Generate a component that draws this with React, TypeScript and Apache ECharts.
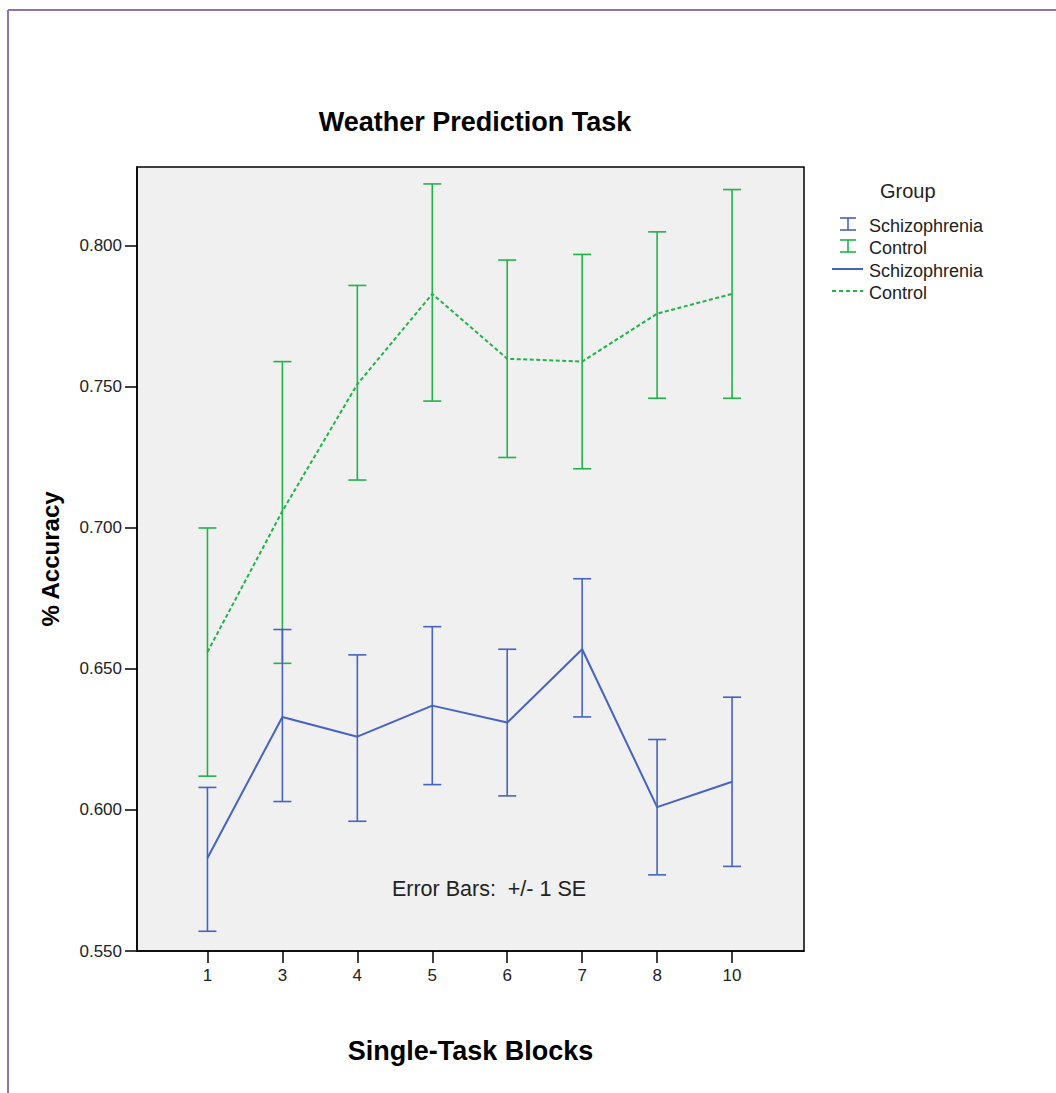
import React, { useEffect, useRef } from 'react';
import * as echarts from 'echarts';

const categories = ['1', '3', '4', '5', '6', '7', '8', '10'];
const schizMean = [0.583, 0.633, 0.626, 0.637, 0.631, 0.657, 0.601, 0.610];
const schizHigh = [0.608, 0.664, 0.655, 0.665, 0.657, 0.682, 0.625, 0.640];
const schizLow = [0.557, 0.603, 0.596, 0.609, 0.605, 0.633, 0.577, 0.580];
const controlMean = [0.656, 0.706, 0.751, 0.783, 0.760, 0.759, 0.776, 0.783];
const controlHigh = [0.700, 0.759, 0.786, 0.822, 0.795, 0.797, 0.805, 0.820];
const controlLow = [0.612, 0.652, 0.717, 0.745, 0.725, 0.721, 0.746, 0.746];
const yTicks = [0.55, 0.6, 0.65, 0.7, 0.75, 0.8];
const groupNames = ['Schizophrenia', 'Control'];

const FONT = '"Liberation Sans", Arial, sans-serif';
const BLUE = '#4662c2';
const GREEN = '#22b24a';

function errorSeries(name: string, high: number[], low: number[], color: string) {
  return {
    type: 'custom',
    name,
    data: categories.map((_, i) => [i, high[i], low[i]]),
    encode: { x: 0, y: [1, 2] },
    z: 2,
    renderItem: (params: any, api: any) => {
      const x = api.value(0);
      const top = api.coord([x, api.value(1)]);
      const bot = api.coord([x, api.value(2)]);
      const hw = 9;
      const style = { stroke: color, lineWidth: 1.6 };
      return {
        type: 'group',
        children: [
          { type: 'line', shape: { x1: top[0], y1: top[1], x2: bot[0], y2: bot[1] }, style },
          { type: 'line', shape: { x1: top[0] - hw, y1: top[1], x2: top[0] + hw, y2: top[1] }, style },
          { type: 'line', shape: { x1: bot[0] - hw, y1: bot[1], x2: bot[0] + hw, y2: bot[1] }, style },
        ],
      };
    },
  };
}

function legendIbeam(cx: number, cy: number, color: string) {
  const s = { stroke: color, lineWidth: 1.6 };
  return [
    { type: 'line', shape: { x1: cx, y1: cy - 6, x2: cx, y2: cy + 6 }, style: s },
    { type: 'line', shape: { x1: cx - 8, y1: cy - 6, x2: cx + 8, y2: cy - 6 }, style: s },
    { type: 'line', shape: { x1: cx - 8, y1: cy + 6, x2: cx + 8, y2: cy + 6 }, style: s },
  ];
}

function legendText(x: number, y: number, text: string) {
  return {
    type: 'text',
    x,
    y,
    style: { text, fontSize: 18, fontFamily: FONT, fill: '#222', align: 'left', verticalAlign: 'middle' },
  };
}

export default function App() {
  const ref = useRef<HTMLDivElement>(null);
  useEffect(() => {
    const chart = echarts.init(ref.current!, null, { renderer: 'svg' });
    const option: any = {
      animation: false,
      backgroundColor: '#fff',
      title: {
        text: 'Weather Prediction Task',
        left: 470,
        top: 103,
        textAlign: 'center',
        textStyle: { fontSize: 27, fontWeight: 'bold', color: '#000', fontFamily: FONT },
      },
      grid: {
        left: 137,
        right: 252,
        top: 167,
        bottom: 142,
        show: true,
        backgroundColor: '#f0f0f0',
        borderColor: '#000',
        borderWidth: 1.5,
      },
      xAxis: {
        type: 'value',
        min: -0.94,
        max: 7.96,
        name: 'Single-Task Blocks',
        nameLocation: 'middle',
        nameGap: 86,
        nameTextStyle: { fontSize: 27, fontWeight: 'bold', color: '#000', fontFamily: FONT },
        axisLine: { show: true, onZero: false, lineStyle: { color: '#000', width: 1.5 } },
        axisTick: { show: true, length: 12, customValues: categories.map((_, i) => i), lineStyle: { color: '#000', width: 1.5 } },
        axisLabel: {
          customValues: categories.map((_, i) => i),
          formatter: (v: number) => categories[Math.round(v)] ?? '',
          margin: 16,
          fontSize: 17,
          color: '#222',
          fontFamily: FONT,
        },
        splitLine: { show: false },
      },
      yAxis: {
        type: 'value',
        min: 0.55,
        max: 0.828,
        name: '% Accuracy',
        nameLocation: 'middle',
        nameGap: 75,
        nameTextStyle: { fontSize: 24, fontWeight: 'bold', color: '#000', fontFamily: FONT },
        axisLine: { show: true, onZero: false, lineStyle: { color: '#000', width: 1.5 } },
        axisTick: { show: true, length: 12, customValues: yTicks, lineStyle: { color: '#000', width: 1.5 } },
        axisLabel: {
          customValues: yTicks,
          formatter: (v: number) => v.toFixed(3),
          margin: 15,
          fontSize: 17,
          color: '#222',
          fontFamily: FONT,
        },
        splitLine: { show: false },
      },
      series: [
        errorSeries(groupNames[1] + ' SE', controlHigh, controlLow, GREEN),
        errorSeries(groupNames[0] + ' SE', schizHigh, schizLow, BLUE),
        {
          type: 'line',
          name: groupNames[1],
          data: categories.map((_, i) => [i, controlMean[i]]),
          symbol: 'none',
          z: 3,
          lineStyle: { color: GREEN, width: 2, type: [4, 2.5] },
        },
        {
          type: 'line',
          name: groupNames[0],
          data: categories.map((_, i) => [i, schizMean[i]]),
          symbol: 'none',
          z: 3,
          lineStyle: { color: BLUE, width: 2 },
        },
      ],
      graphic: [
        // page border
        { type: 'line', shape: { x1: 8, y1: 10, x2: 1056, y2: 10 }, style: { stroke: '#8a74b6', lineWidth: 2 } },
        { type: 'line', shape: { x1: 8, y1: 10, x2: 8, y2: 1093 }, style: { stroke: '#8a74b6', lineWidth: 2 } },
        {
          type: 'text',
          x: 489,
          y: 889,
          z: 10,
          style: { text: 'Error Bars:  +/- 1 SE', fontSize: 21.5, fontFamily: FONT, fill: '#222', align: 'center', verticalAlign: 'middle' },
        },
        {
          type: 'text',
          x: 880,
          y: 191,
          style: { text: 'Group', fontSize: 20, fontFamily: FONT, fill: '#222', align: 'left', verticalAlign: 'middle' },
        },
        ...legendIbeam(848, 224, BLUE),
        legendText(869, 226, groupNames[0]),
        ...legendIbeam(848, 246, GREEN),
        legendText(869, 248, groupNames[1]),
        { type: 'line', shape: { x1: 832, y1: 269, x2: 863, y2: 269 }, style: { stroke: BLUE, lineWidth: 2 } },
        legendText(869, 271, groupNames[0]),
        { type: 'line', shape: { x1: 832, y1: 291, x2: 863, y2: 291 }, style: { stroke: GREEN, lineWidth: 2, lineDash: [4, 3] } },
        legendText(869, 293, groupNames[1]),
      ],
    };
    chart.setOption(option);
    return () => chart.dispose();
  }, []);
  return (
    <div
      ref={ref}
      style={{ position: 'fixed', left: 0, top: 0, width: 1056, height: 1093, background: '#fff' }}
    />
  );
}
